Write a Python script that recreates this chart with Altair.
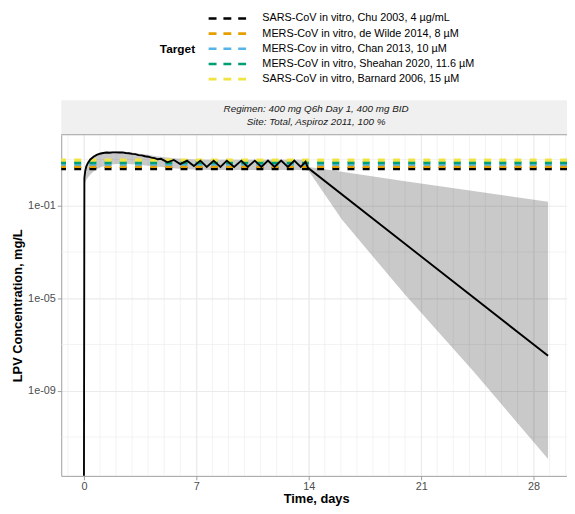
import altair as alt
import pandas as pd

# ---------------- data ----------------
# mean profile: time (days) and log10 concentration (mg/L)
mean_t = [0.0, 0.03, 0.08, 0.15, 0.25, 0.4, 0.6, 0.8, 1.0, 1.2, 1.4, 1.6, 1.8, 2.0,
          2.2, 2.4, 2.6, 2.8, 3.0, 3.2, 3.4, 3.6, 3.8, 4.0, 4.2, 4.4, 4.6, 4.8,
          5.2, 5.6, 6.0, 6.42, 6.85, 7.25, 7.65, 8.08, 8.5, 8.9, 9.35, 9.8, 10.2,
          10.64, 11.05, 11.46, 11.87, 12.28, 12.7, 13.1, 13.5, 13.8, 13.95, 28.9]
mean_log = [-14.0, 0.2, 0.5, 0.7, 0.85, 1.0, 1.12, 1.2, 1.25, 1.28, 1.30, 1.29, 1.31, 1.31,
            1.30, 1.31, 1.28, 1.27, 1.24, 1.23, 1.19, 1.18, 1.14, 1.12, 1.08, 1.06, 1.01, 1.03,
            0.88, 0.98, 0.80, 0.95, 0.72, 0.95, 0.68, 0.95, 0.68, 0.95, 0.68, 0.95, 0.68,
            0.95, 0.68, 0.95, 0.68, 0.95, 0.68, 0.95, 0.68, 0.90, 0.64, -7.49]

# prediction band: time (days), lower / upper log10 concentration (mg/L)
band_t = [0.03, 0.08, 0.15, 0.25, 0.4, 0.6, 0.8, 1.0, 1.5, 2.0, 2.5, 3.0, 3.5, 4.0, 4.5,
          5.0, 5.5, 6.0, 7.0, 8.0, 9.0, 10.0, 11.0, 12.0, 13.0, 13.8, 14.0,
          16.06, 20.0, 24.25, 28.9]
band_lo = [-0.2, 0.0, 0.12, 0.22, 0.35, 0.48, 0.58, 0.65, 0.76, 0.8, 0.8, 0.79, 0.76, 0.73, 0.7,
           0.66, 0.62, 0.6, 0.56, 0.55, 0.55, 0.55, 0.55, 0.55, 0.55, 0.55, 0.5,
           -1.6, -4.85, -8.16, -11.95]
band_hi = [0.25, 0.55, 0.75, 0.9, 1.05, 1.17, 1.25, 1.3, 1.35, 1.36, 1.34, 1.3, 1.25, 1.2, 1.14,
           1.1, 1.06, 1.03, 1.0, 0.99, 0.99, 0.99, 0.99, 0.99, 0.99, 0.99, 0.68,
           0.47, 0.06, -0.36, -0.83]

# in-vitro targets (mg/L)
target_names = ["SARS-CoV in vitro, Chu 2003, 4 \u00b5g/mL",
                "MERS-CoV in vitro, de Wilde 2014, 8 \u00b5M",
                "MERS-Cov in vitro, Chan 2013, 10 \u00b5M",
                "MERS-CoV in vitro, Sheahan 2020, 11.6 \u00b5M",
                "SARS-CoV in vitro, Barnard 2006, 15 \u00b5M"]
target_mgL = [4.0, 5.03, 6.29, 7.29, 9.43]
target_colors = ["#000000", "#E69F00", "#56B4E9", "#009E73", "#F0E442"]

x_major = [0, 7, 14, 21, 28]
x_minor = [-1, 0, 1, 2, 3, 4, 5, 6, 7, 8, 9, 10, 11, 12, 13, 14, 15, 16, 17, 18, 19, 20,
           21, 22, 23, 24, 25, 26, 27, 28, 29, 30]
y_major = [1e-9, 1e-5, 1e-1]
y_minor = [1e-11, 1e-7, 1e-3, 1e1]

strip_line1 = "Regimen: 400 mg Q6h Day 1, 400 mg BID"
strip_line2 = "Site: Total, Aspiroz 2011, 100 %"

# ---------------- layout ----------------
W, H = 513, 346
FONT = "Liberation Sans"
GRID = "#EBEBEB"
AXC = "#9E9E9E"

xscale = alt.Scale(domain=[-1.412, 30.08], nice=False, zero=False)
yscale = alt.Scale(type="log", domain=[10 ** -12.68, 10 ** 2.07], nice=False)

mean_df = pd.DataFrame({"t": mean_t, "lg": mean_log})
band_df = pd.DataFrame({"t": band_t, "lo": band_lo, "hi": band_hi})
target_df = pd.DataFrame({"name": target_names, "C": target_mgL})
xminor_df = pd.DataFrame({"t": x_minor})
yminor_df = pd.DataFrame({"C": y_minor})
one = pd.DataFrame({"a": [0]})

xaxis = alt.Axis(values=x_major, format="d", title="Time, days", titleFontSize=13,
                 titleFontWeight="bold", titleColor="black", titleFont=FONT,
                 titlePadding=1, labelFont=FONT, labelFontSize=11, labelColor="#4D4D4D",
                 labelPadding=1, tickSize=4, tickColor=AXC, domainColor=AXC,
                 gridColor=GRID, gridWidth=1.1, titleX=258.5)
yaxis = alt.Axis(values=y_major,
                 labelExpr="datum.value < 1e-7 ? '1e-09' : (datum.value < 1e-3 ? '1e-05' : '1e-01')",
                 title="LPV Concentration, mg/L", titleFontSize=13, titleFontWeight="bold",
                 titleColor="black", titleFont=FONT, titlePadding=3, labelFont=FONT,
                 labelFontSize=11, labelColor="#4D4D4D", labelPadding=2, tickSize=4,
                 tickColor=AXC, domainColor=AXC, gridColor=GRID, gridWidth=1.1)

base_x = alt.X("t:Q", scale=xscale, axis=xaxis)

xminor = alt.Chart(xminor_df).mark_rule(color=GRID, strokeWidth=0.6).encode(
    x=alt.X("t:Q", scale=xscale, axis=xaxis))
yminor = alt.Chart(yminor_df).mark_rule(color=GRID, strokeWidth=0.6).encode(
    y=alt.Y("C:Q", scale=yscale, axis=yaxis))

band = alt.Chart(band_df).transform_calculate(
    C="pow(10, datum.lo)", C2="pow(10, datum.hi)"
).mark_area(color="#000000", opacity=0.21, clip=True).encode(
    x=base_x, y=alt.Y("C:Q", scale=yscale, axis=yaxis), y2="C2:Q")

targets = alt.Chart(target_df).mark_rule(strokeWidth=3.3, strokeDash=[7, 8.4]).encode(
    y=alt.Y("C:Q", scale=yscale, axis=yaxis),
    color=alt.Color("name:N", sort=target_names,
                    scale=alt.Scale(domain=target_names, range=target_colors),
                    legend=alt.Legend(title="Target", orient="none", legendX=100, legendY=-124,
                                      titleOrient="left", titleAnchor="middle",
                                      titleBaseline="middle",
                                      titleFontSize=12, titleFontWeight="bold",
                                      titleColor="black", titleFont=FONT, titlePadding=12,
                                      labelFont=FONT, labelFontSize=11, labelColor="black",
                                      labelLimit=400,
                                      symbolType="stroke", symbolSize=1444,
                                      symbolStrokeWidth=2.6, symbolDash=[8, 7],
                                      clipHeight=12, rowPadding=3.4, labelOffset=15,
                                      padding=0, symbolOffset=0)))

line = alt.Chart(mean_df).transform_calculate(C="pow(10, datum.lg)").mark_line(
    color="black", strokeWidth=1.9, clip=True).encode(
    x=base_x, y=alt.Y("C:Q", scale=yscale, axis=yaxis))

top_border = alt.Chart(one).mark_rule(color=AXC, strokeWidth=1).encode(y=alt.value(0))
strip = alt.Chart(one).mark_rect(fill="#F0F0F0").encode(
    x=alt.value(0), x2=alt.value(W), y=alt.value(-35), y2=alt.value(0))
strip1 = alt.Chart(pd.DataFrame({"s": [strip_line1]})).mark_text(
    font=FONT, fontSize=10, fontStyle="italic", color="#1A1A1A", baseline="middle").encode(
    x=alt.value(258.5), y=alt.value(-26.5), text="s:N")
strip2 = alt.Chart(pd.DataFrame({"s": [strip_line2]})).mark_text(
    font=FONT, fontSize=10, fontStyle="italic", color="#1A1A1A", baseline="middle").encode(
    x=alt.value(258.5), y=alt.value(-13), text="s:N")

chart = alt.layer(xminor, yminor, band, targets, line, strip, top_border, strip1, strip2).properties(
    width=W, height=H,
    autosize=alt.AutoSizeParams(type="none"),
    padding={"left": 54, "top": 125, "right": 0, "bottom": 27},
    background="white",
).configure_view(stroke=None)

chart.save("out.html", embed_options={"renderer": "svg", "actions": False})
